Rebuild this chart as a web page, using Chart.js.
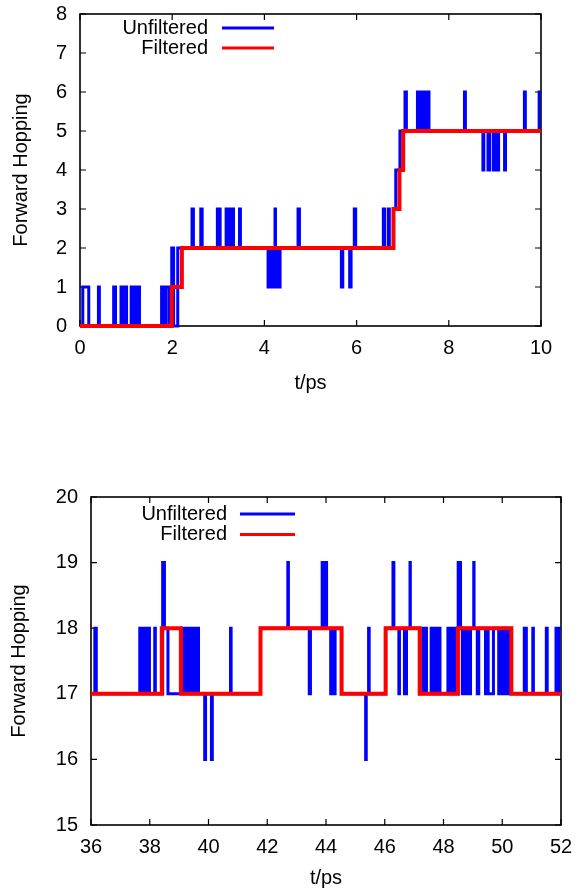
<!DOCTYPE html>
<html><head><meta charset="utf-8">
<script src="https://cdn.jsdelivr.net/npm/chart.js@4.4.1/dist/chart.umd.min.js"></script>
<style>
html,body{margin:0;padding:0;background:#fff;}
#w1{position:absolute;left:0;top:0;width:580px;height:400px;}
#w2{position:absolute;left:0;top:400px;width:580px;height:490px;}
</style></head><body>
<div id="w1"><canvas id="c1" width="580" height="400"></canvas></div>
<div id="w2"><canvas id="c2" width="580" height="490"></canvas></div>
<script>
// ---------------- DATA ----------------
const seriesNames = ['Unfiltered', 'Filtered'];
const xTitle = 't/ps';
const yTitle = 'Forward Hopping';

// top panel: change points (time, new level)
const topUnfilteredT = [0,0.06,0.19,0.40,0.42,0.73,0.77,0.89,0.93,0.96,1.01,1.11,1.16,1.19,1.24,1.26,1.29,1.77,1.83,1.86,1.93,1.99,2.03,2.12,
  2.43,2.46,2.62,2.65,2.98,3.04,3.17,3.23,3.27,3.33,3.46,3.48,4.08,4.13,4.16,4.21,4.23,4.24,4.26,4.30,4.32,4.34,4.73,4.76,
  5.67,5.70,5.85,5.88,5.95,5.98,6.58,6.61,6.69,6.71,6.80,6.85,6.94,7.05,7.08,7.32,7.37,7.40,7.45,7.48,7.52,7.54,7.57,
  8.34,8.36,8.74,8.76,8.85,8.89,8.97,9.00,9.03,9.08,9.21,9.23,9.64,9.66,9.96,10];
const topUnfilteredV = [0,1,0,1,0,1,0,1,0,1,0,1,0,1,0,1,0,1,0,1,0,2,0,2,
  3,2,3,2,3,2,3,2,3,2,3,2,1,2,1,2,3,2,1,2,1,2,3,2,
  1,2,1,2,3,2,3,2,3,2,3,4,5,6,5,6,5,6,5,6,5,6,5,
  6,5,4,5,4,5,4,5,4,5,4,5,6,5,6,6];
const topFilteredT = [0,1.99,2.21,6.80,6.93,7.01,10];
const topFilteredV = [0,1,2,3,4,5,5];
const topXTicks = [0,2,4,6,8,10];
const topYTicks = [0,1,2,3,4,5,6,7,8];

// bottom panel
const botUnfilteredT = [36,36.13,36.18,37.66,37.72,37.76,37.82,37.86,37.92,37.95,37.99,38.17,38.19,38.44,38.50,38.62,
  39.07,39.12,39.16,39.21,39.24,39.30,39.35,39.40,39.44,39.50,39.53,39.58,39.61,39.66,39.87,39.90,40.10,40.13,40.75,40.77,
  41.77,42.70,42.72,43.43,43.47,43.87,43.92,43.96,44.02,44.16,44.20,44.24,44.27,44.29,44.31,44.53,
  45.35,45.37,45.45,45.47,46.03,46.28,46.31,46.48,46.50,46.67,46.74,46.86,46.87,
  47.19,47.30,47.34,47.38,47.42,47.58,47.62,47.66,47.72,47.76,47.80,47.84,47.88,48.15,48.20,48.25,48.30,48.34,48.40,
  48.49,48.50,48.58,48.64,48.68,48.72,48.76,48.80,48.85,48.88,48.92,49.03,49.04,49.15,49.20,49.43,49.47,49.52,49.70,
  49.88,49.92,50.00,50.04,50.08,50.12,50.20,50.24,50.31,50.75,50.82,51.04,51.06,51.50,51.53,51.83,51.93,52];
const botUnfilteredV = [17,18,17,18,17,18,17,18,17,18,17,18,17,19,18,17,
  18,17,18,17,18,17,18,17,18,17,18,17,18,17,16,17,16,17,18,17,
  18,19,18,17,18,19,18,19,18,17,18,17,18,17,18,17,
  16,17,18,17,18,19,18,17,18,17,18,19,18,
  17,18,17,18,17,18,17,18,17,18,17,18,17,18,17,18,17,18,17,
  18,19,18,17,18,17,18,17,18,17,18,19,18,17,18,17,18,17,18,
  17,18,17,18,17,18,17,18,17,18,17,18,17,18,17,18,17,17];
const botFilteredT = [36,38.41,39.06,41.77,44.53,46.03,47.19,48.49,50.31,52];
const botFilteredV = [17,18,17,18,17,18,17,18,17,17];
const botXTicks = [36,38,40,42,44,46,48,50,52];
const botYTicks = [15,16,17,18,19,20];

// ---------------- DRAWING ----------------
const FONT = "'Liberation Sans', Arial, Helvetica, sans-serif";
const BLUE = '#0000ff', RED = '#ff0000';

const toPts = (T, V) => T.map((t, i) => ({x: t, y: V[i]}));

const framePlugin = {
  id: 'gpFrame',
  beforeDatasetsDraw(chart) {
    const {ctx, chartArea: a, scales: {x, y}} = chart;
    ctx.save();
    const L = 6;
    ctx.strokeStyle = '#000';
    ctx.lineWidth = 1.2;
    ctx.beginPath();
    x.ticks.forEach(t => {
      const p = x.getPixelForValue(t.value);
      ctx.moveTo(p, a.bottom); ctx.lineTo(p, a.bottom - L);
      ctx.moveTo(p, a.top); ctx.lineTo(p, a.top + L);
    });
    y.ticks.forEach(t => {
      const p = y.getPixelForValue(t.value);
      ctx.moveTo(a.left, p); ctx.lineTo(a.left + L, p);
      ctx.moveTo(a.right, p); ctx.lineTo(a.right - L, p);
    });
    ctx.stroke();
    ctx.lineWidth = 1.6;
    ctx.strokeRect(a.left, a.top, a.right - a.left, a.bottom - a.top);
    ctx.restore();
  }
};

const keyPlugin = {
  id: 'gpKey',
  afterDatasetsDraw(chart, args, opts) {
    const {ctx, chartArea: a} = chart;
    ctx.save();
    ctx.font = '20px ' + FONT;
    ctx.textAlign = 'right';
    ctx.textBaseline = 'middle';
    chart.data.datasets.forEach((ds, i) => {
      const yy = a.top + opts.y0 + i * opts.dy;
      ctx.fillStyle = '#000';
      ctx.fillText(ds.label, a.left + opts.textRight, yy);
      ctx.strokeStyle = ds.borderColor;
      ctx.lineWidth = 3;
      ctx.beginPath();
      ctx.moveTo(a.left + opts.lineFrom, yy);
      ctx.lineTo(a.left + opts.lineTo, yy);
      ctx.stroke();
    });
    ctx.restore();
  }
};

function makeChart(id, cfg) {
  return new Chart(document.getElementById(id), {
    type: 'line',
    data: {
      datasets: [
        {label: seriesNames[0], data: toPts(cfg.uT, cfg.uV), borderColor: BLUE, backgroundColor: BLUE,
         borderWidth: 3, stepped: 'before', pointRadius: 0, fill: false, order: 1, clip: 8, borderCapStyle: 'butt'},
        {label: seriesNames[1], data: toPts(cfg.fT, cfg.fV), borderColor: RED, backgroundColor: RED,
         borderWidth: 4, stepped: 'before', pointRadius: 0, fill: false, order: 0, clip: 8, borderCapStyle: 'butt'}
      ]
    },
    options: {
      responsive: false,
      animation: false,
      devicePixelRatio: 1,
      layout: {padding: {left: 0, top: cfg.padTop, right: cfg.padRight, bottom: 0}},
      plugins: {
        legend: {display: false},
        tooltip: {enabled: false},
        gpKey: cfg.key
      },
      scales: {
        x: {
          type: 'linear', min: cfg.xTicks[0], max: cfg.xTicks[cfg.xTicks.length - 1],
          afterBuildTicks: s => { s.ticks = cfg.xTicks.map(v => ({value: v})); },
          afterFit: s => { s.height = cfg.xHeight; s.paddingLeft = 0; s.paddingRight = 0; },
          grid: {display: false, drawTicks: false},
          border: {display: false},
          ticks: {color: '#000', font: {family: FONT, size: 20}, padding: 10, maxRotation: 0, autoSkip: false},
          title: {display: true, text: xTitle, color: '#000', font: {family: FONT, size: 20}, padding: {top: 0, bottom: cfg.xTitlePad}}
        },
        y: {
          type: 'linear', min: cfg.yTicks[0], max: cfg.yTicks[cfg.yTicks.length - 1],
          afterBuildTicks: s => { s.ticks = cfg.yTicks.map(v => ({value: v})); },
          afterFit: s => { s.width = cfg.yWidth; s.paddingTop = 0; s.paddingBottom = 0; },
          grid: {display: false, drawTicks: false},
          border: {display: false},
          ticks: {color: '#000', font: {family: FONT, size: 20}, padding: 13},
          title: {display: true, text: yTitle, color: '#000', font: {family: FONT, size: 20}, padding: {top: cfg.yTitlePad, bottom: 0}}
        }
      }
    },
    plugins: [framePlugin, keyPlugin]
  });
}

makeChart('c1', {
  uT: topUnfilteredT, uV: topUnfilteredV, fT: topFilteredT, fV: topFilteredV,
  xTicks: topXTicks, yTicks: topYTicks,
  padTop: 14, padRight: 39, xHeight: 74, yWidth: 80, xTitlePad: 5, yTitlePad: 9,
  key: {textRight: 128, lineFrom: 142, lineTo: 194, y0: 14, dy: 20}
});
makeChart('c2', {
  uT: botUnfilteredT, uV: botUnfilteredV, fT: botFilteredT, fV: botFilteredV,
  xTicks: botXTicks, yTicks: botYTicks,
  padTop: 97, padRight: 19, xHeight: 65, yWidth: 91, xTitlePad: 0, yTitlePad: 7,
  key: {textRight: 136, lineFrom: 149, lineTo: 204, y0: 17, dy: 20.5}
});
</script>
</body></html>
